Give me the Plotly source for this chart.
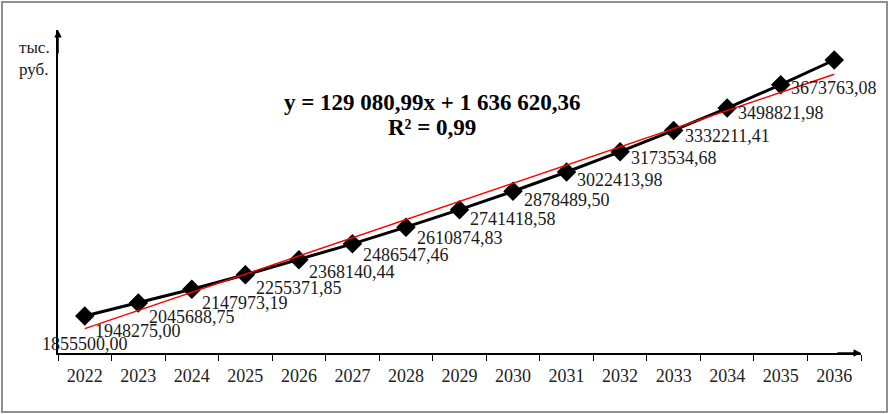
import plotly.graph_objects as go

years = ["2022", "2023", "2024", "2025", "2026", "2027", "2028", "2029",
         "2030", "2031", "2032", "2033", "2034", "2035", "2036"]
values = [1855500.00, 1948275.00, 2045688.75, 2147973.19, 2255371.85,
          2368140.44, 2486547.46, 2610874.83, 2741418.58, 2878489.50,
          3022413.98, 3173534.68, 3332211.41, 3498821.98, 3673763.08]
value_labels = ["1855500,00", "1948275,00", "2045688,75", "2147973,19",
                "2255371,85", "2368140,44", "2486547,46", "2610874,83",
                "2741418,58", "2878489,50", "3022413,98", "3173534,68",
                "3332211,41", "3498821,98", "3673763,08"]

# linear trend, ends of the fitted line
trend_years = ["2022", "2036"]
trend_values = [1765701.35, 3572835.21]

equation = "y = 129 080,99x + 1 636 620,36"
r_squared = "R² = 0,99"

SERIF = "Liberation Serif, Times New Roman, serif"

fig = go.Figure()

fig.add_trace(
    go.Scatter(
        x=years,
        y=values,
        mode="lines+markers",
        line=dict(color="black", width=3),
        marker=dict(symbol="diamond", size=15, color="black"),
        showlegend=False
    )
)

fig.add_trace(
    go.Scatter(
        x=trend_years,
        y=trend_values,
        mode="lines",
        line=dict(color="#ff0000", width=1.5),
        showlegend=False
    )
)

# data labels under each point (category axis -> use index position)
for i, (v, lbl) in enumerate(zip(values, value_labels)):
    fig.add_annotation(
        x=i, y=v, text=lbl, showarrow=False,
        yshift=-28,
        font=dict(family=SERIF, size=18, color="#1a1a1a")
    )

fig.add_annotation(
    xref="paper", yref="paper", x=0.466, y=0.774,
    xanchor="center", yanchor="middle",
    text="<b>" + equation + "</b>", showarrow=False,
    font=dict(family=SERIF, size=23, color="black")
)
fig.add_annotation(
    xref="paper", yref="paper", x=0.466, y=0.697,
    xanchor="center", yanchor="middle",
    text="<b>" + r_squared + "</b>", showarrow=False,
    font=dict(family=SERIF, size=23, color="black")
)

fig.add_annotation(
    xref="paper", yref="paper", x=-0.051, y=0.913,
    xanchor="left", yanchor="middle",
    text="тыс.<br>руб.", showarrow=False, align="left",
    font=dict(family=SERIF, size=17, color="#222")
)

# axis arrows
fig.add_annotation(
    xref="x domain", yref="y domain", x=1.0, y=0,
    ax=-25, ay=0, showarrow=True, arrowhead=2,
    arrowsize=1, arrowwidth=1.5, arrowcolor="black", text=""
)
fig.add_annotation(
    xref="x domain", yref="y domain", x=0, y=1.0,
    ax=0, ay=25, showarrow=True, arrowhead=2,
    arrowsize=1, arrowwidth=1.5, arrowcolor="black", text=""
)

# outer frame
pw, ph = 803, 323
fig.add_shape(
    type="rect", xref="paper", yref="paper",
    x0=(2 - 58) / pw, x1=(887 - 58) / pw,
    y0=(353 - 412) / ph, y1=(353 - 2) / ph,
    line=dict(color="#909090", width=2)
)

fig.update_layout(
    width=889,
    height=414,
    margin=dict(l=58, r=28, t=30, b=61),
    plot_bgcolor="white",
    paper_bgcolor="white",
    showlegend=False
)

fig.update_xaxes(
    type="category",
    range=[-0.5, 14.5],
    showline=True, linecolor="black", linewidth=1.5,
    ticks="outside", tickson="boundaries", ticklen=6,
    tickcolor="black", tickwidth=1,
    ticklabelstandoff=6,
    showgrid=False, zeroline=False,
    tickfont=dict(family=SERIF, size=18, color="#222")
)
fig.update_yaxes(
    range=[1592700, 3886800],
    showline=True, linecolor="black", linewidth=1.5,
    showticklabels=False, ticks="",
    showgrid=False, zeroline=False
)

fig.write_html(
    "out.html",
    config={"displayModeBar": False},
    post_script="document.body.style.margin='0';"
)
